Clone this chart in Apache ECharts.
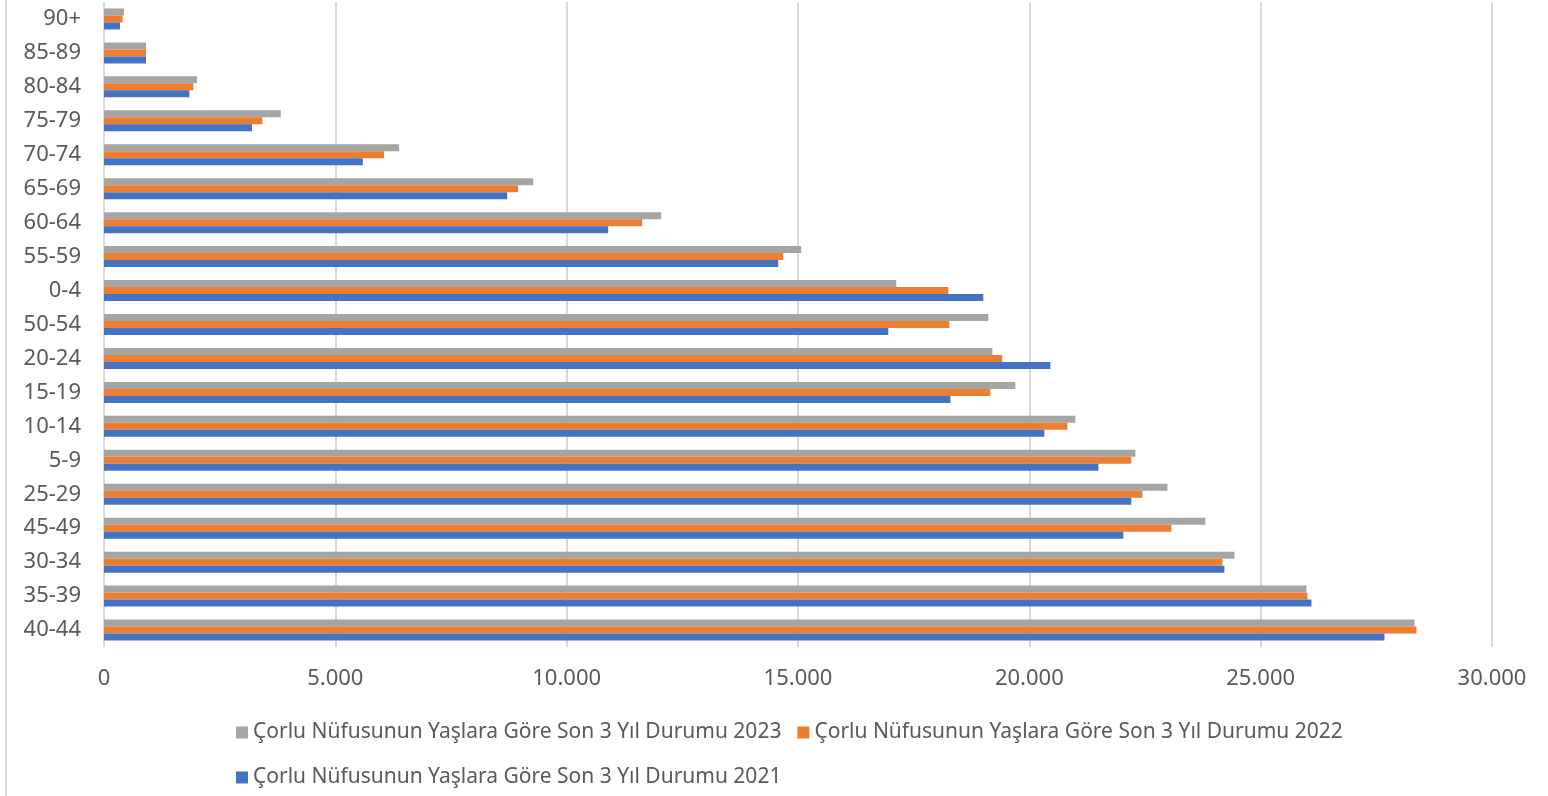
<!DOCTYPE html>
<html>
<head>
<meta charset="utf-8">
<script src="https://cdn.jsdelivr.net/npm/echarts@6/dist/echarts.min.js"></script>
<style>html,body{margin:0;padding:0;background:#fff;}#c{width:1548px;height:796px;}</style>
</head>
<body>
<div id="c"></div>
<script>
const categories = ['40-44','35-39','30-34','45-49','25-29','5-9','10-14','15-19','20-24','50-54','0-4','55-59','60-64','65-69','70-74','75-79','80-84','85-89','90+'];
const names = ['Çorlu Nüfusunun Yaşlara Göre Son 3 Yıl Durumu 2021','Çorlu Nüfusunun Yaşlara Göre Son 3 Yıl Durumu 2022','Çorlu Nüfusunun Yaşlara Göre Son 3 Yıl Durumu 2023'];
const values2021 = [27676,26097,24216,22032,22205,21492,20324,18292,20454,16951,19005,14573,10897,8714,5594,3200,1845,908,346];
const values2022 = [28368,26011,24173,23070,22443,22205,20822,19157,19416,18270,18249,14681,11632,8951,6054,3423,1931,908,404];
const values2023 = [28324,25989,24432,23805,22984,22292,20995,19697,19200,19114,17124,15070,12043,9276,6378,3820,2011,908,432];
const xTicks = {min:0, max:30000, interval:5000};

const colors = ['#4472c4','#ed7d31','#a5a5a5'];
const font = 'Noto Sans';
const fmt = v => String(v).replace(/\B(?=(\d{3})+(?!\d))/g, '.');

const chart = echarts.init(document.getElementById('c'));
const mk = (i, data) => ({
  name: names[i], type:'bar', data, barWidth:7, barGap:'0%',
  itemStyle:{color:colors[i]}, emphasis:{disabled:true}
});
chart.setOption({
  animation:false,
  grid:{left:104, right:56, top:2, bottom:149, containLabel:false},
  xAxis:{type:'value', min:xTicks.min, max:xTicks.max, interval:xTicks.interval,
    axisLine:{show:false}, axisTick:{show:false},
    axisLabel:{formatter:fmt, color:'#595959', fontSize:22, fontFamily:font, margin:21},
    splitLine:{show:true, lineStyle:{color:'#d9d9d9', width:2}}},
  yAxis:{type:'category', data:categories,
    axisLine:{show:false}, axisTick:{show:false},
    axisLabel:{color:'#595959', fontSize:22, fontFamily:font, margin:23}},
  legend:[
    {data:[names[2], names[1]], left:231, top:717, itemWidth:12, itemHeight:12, itemGap:16, icon:'rect',
     textStyle:{color:'#595959', fontSize:21, fontFamily:font}},
    {data:[names[0]], left:231, top:762, itemWidth:12, itemHeight:12, icon:'rect',
     textStyle:{color:'#595959', fontSize:21, fontFamily:font}}
  ],
  graphic:[{type:'line', shape:{x1:6, y1:0, x2:6, y2:796}, style:{stroke:'#d9d9d9', lineWidth:2}}],
  series:[mk(2, values2023), mk(1, values2022), mk(0, values2021)]
});
</script>
</body>
</html>
